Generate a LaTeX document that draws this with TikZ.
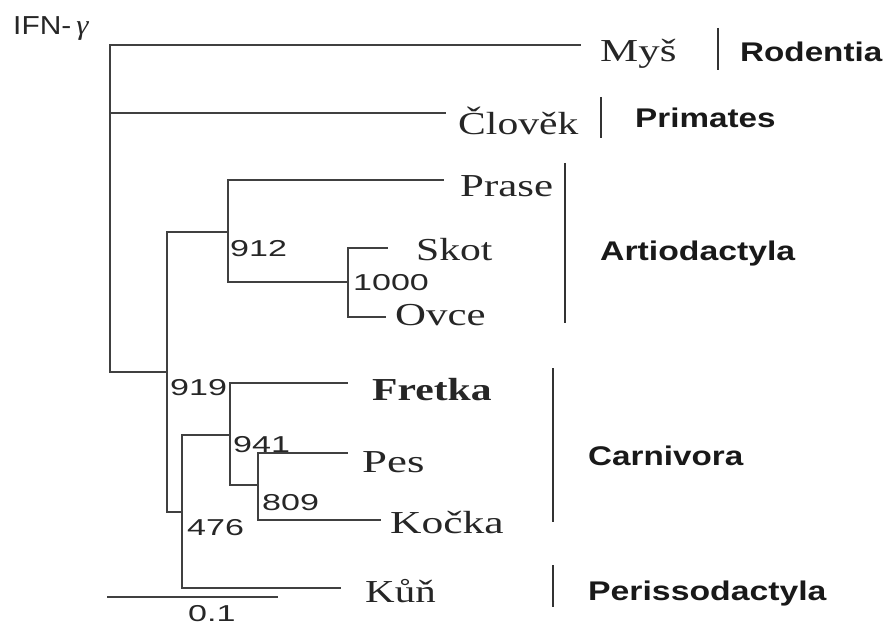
\documentclass[tikz,border=0pt]{standalone}
\usepackage{fontspec}
\setmainfont{Liberation Serif}
\newfontfamily\sansf{Liberation Sans}
\begin{document}
\begin{tikzpicture}[x=1pt,y=-1pt,
  br/.style={draw=black!75,line width=2pt,line cap=rect},
  grp/.style={draw=black!80,line width=2.8pt},
  sp/.style={anchor=base west,inner sep=0pt,font=\fontsize{32}{32}\selectfont,text=black!85},
  lab/.style={anchor=base west,inner sep=0pt,font=\sansf\bfseries\fontsize{27}{27}\selectfont,text=black!90},
  num/.style={anchor=base west,inner sep=0pt,font=\sansf\fontsize{23}{23}\selectfont,text=black!85}]
\useasboundingbox (0,0) rectangle (885,628);
\newcommand{\sx}[2]{\scalebox{#1}[1]{#2}}
% coordinates of the tree
\coordinate (r1) at (110,45);
\coordinate (r3) at (110,113);
\coordinate (r2) at (110,372);
\coordinate (A0) at (167,372);
\coordinate (A1) at (167,232);
\coordinate (A2) at (167,512);
\coordinate (B0) at (228,232);
\coordinate (B1) at (228,180);
\coordinate (B2) at (228,282);
\coordinate (C0) at (348,282);
\coordinate (C1) at (348,248);
\coordinate (C2) at (348,317);
\coordinate (D0) at (182,512);
\coordinate (D1) at (182,435);
\coordinate (D2) at (182,588);
\coordinate (E0) at (230,435);
\coordinate (E1) at (230,383);
\coordinate (E2) at (230,485);
\coordinate (F0) at (258,485);
\coordinate (F1) at (258,453);
\coordinate (F2) at (258,520);
% tips
\coordinate (tmys) at (580,45);
\coordinate (tclo) at (445,113);
\coordinate (tpra) at (443,180);
\coordinate (tsko) at (387,248);
\coordinate (tovc) at (385,317);
\coordinate (tfre) at (347,383);
\coordinate (tpes) at (347,453);
\coordinate (tkoc) at (380,520);
\coordinate (tkun) at (340,588);
\coordinate (s1) at (108,597);
\coordinate (s2) at (277,597);
% branches
\draw[br] (tmys) -- (r1) -- (r2) -- (A0);
\draw[br] (r3) -- (tclo);
\draw[br] (A1) -- (A2);
\draw[br] (A1) -- (B0);
\draw[br] (B1) -- (B2);
\draw[br] (B1) -- (tpra);
\draw[br] (B2) -- (C0);
\draw[br] (C1) -- (C2);
\draw[br] (C1) -- (tsko);
\draw[br] (C2) -- (tovc);
\draw[br] (A2) -- (D0);
\draw[br] (D1) -- (D2);
\draw[br] (D2) -- (tkun);
\draw[br] (D1) -- (E0);
\draw[br] (E1) -- (E2);
\draw[br] (E1) -- (tfre);
\draw[br] (E2) -- (F0);
\draw[br] (F1) -- (F2);
\draw[br] (F1) -- (tpes);
\draw[br] (F2) -- (tkoc);
\draw[br] (s1) -- (s2);
% species
\node[sp] (nmys) at (600,62) {\sx{1.34}{Myš}};
\node[sp] (nclo) at (458,135) {\sx{1.3}{Člověk}};
\node[sp] (npra) at (460,197) {\sx{1.34}{Prase}};
\node[sp] (nsko) at (416,260) {\sx{1.3}{Skot}};
\node[sp] (novc) at (395,325) {\sx{1.34}{Ovce}};
\node[sp] (nfre) at (372,400) {\sx{1.3}{\bfseries Fretka}};
\node[sp] (npes) at (362,472) {\sx{1.4}{Pes}};
\node[sp] (nkoc) at (390,533) {\sx{1.36}{Kočka}};
\node[sp] (nkun) at (365,602) {\sx{1.28}{Kůň}};
% group bars
\coordinate (g1a) at (718,28); \coordinate (g1b) at (718,70);
\coordinate (g2a) at (601,97); \coordinate (g2b) at (601,138);
\coordinate (g3a) at (565,163); \coordinate (g3b) at (565,323);
\coordinate (g4a) at (553,368); \coordinate (g4b) at (553,522);
\coordinate (g5a) at (553,565); \coordinate (g5b) at (553,607);
\draw[grp] (g1a) -- (g1b);
\draw[grp] (g2a) -- (g2b);
\draw[grp] (g3a) -- (g3b);
\draw[grp] (g4a) -- (g4b);
\draw[grp] (g5a) -- (g5b);
% group labels
\node[lab] (lrod) at (740,62) {\sx{1.23}{Rodentia}};
\node[lab] (lpri) at (635,128) {\sx{1.23}{Primates}};
\node[lab] (lart) at (600,260) {\sx{1.25}{Artiodactyla}};
\node[lab] (lcar) at (588,465) {\sx{1.23}{Carnivora}};
\node[lab] (lper) at (588,600) {\sx{1.25}{Perissodactyla}};
% bootstrap values
\node[num] (b912) at (230,256) {\sx{1.48}{912}};
\node[num] (b1000) at (353,290) {\sx{1.48}{1000}};
\node[num] (b919) at (170,395) {\sx{1.48}{919}};
\node[num] (b941) at (233,452) {\sx{1.48}{941}};
\node[num] (b809) at (262,510) {\sx{1.48}{809}};
\node[num] (b476) at (187,535) {\sx{1.48}{476}};
\node[num] (bsc) at (188,621) {\sx{1.48}{0.1}};
% title
\node[anchor=base west,inner sep=0pt,text=black!85] (title) at (13,35)
  {\sx{1.15}{\sansf\fontsize{26}{26}\selectfont IFN-\,}\sx{1.1}{\fontsize{28}{28}\selectfont\itshape γ}};
\end{tikzpicture}
\end{document}
